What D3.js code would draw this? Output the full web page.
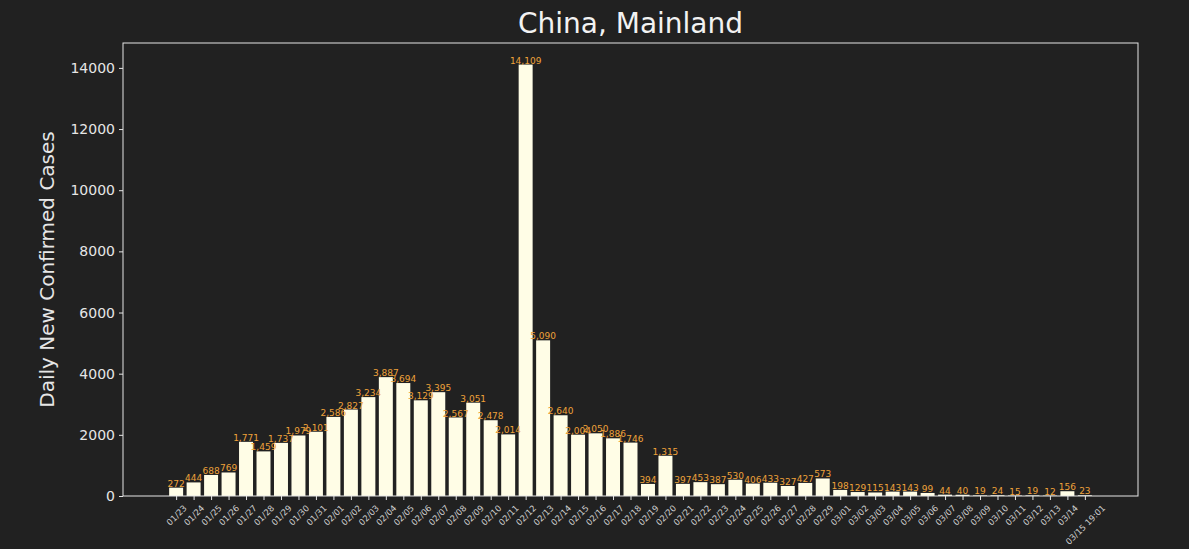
<!DOCTYPE html>
<html><head><meta charset="utf-8">
<script src="https://cdn.jsdelivr.net/npm/d3@7"></script>
<style>
html,body{margin:0;padding:0;background:#212121;}
svg{display:block;font-family:"DejaVu Sans",sans-serif;}
</style></head>
<body><svg id="c" width="1189" height="549"></svg>
<script>
const dates = ["01/23","01/24","01/25","01/26","01/27","01/28","01/29","01/30","01/31",
"02/01","02/02","02/03","02/04","02/05","02/06","02/07","02/08","02/09","02/10","02/11","02/12","02/13","02/14","02/15","02/16","02/17","02/18","02/19","02/20","02/21","02/22","02/23","02/24","02/25","02/26","02/27","02/28","02/29",
"03/01","03/02","03/03","03/04","03/05","03/06","03/07","03/08","03/09","03/10","03/11","03/12","03/13","03/14","03/15 19:01"];
const cases = [272,444,688,769,1771,1459,1737,1979,2101,
2586,2827,3234,3887,3694,3129,3395,2567,3051,2478,2014,14109,5090,2640,2004,2050,1886,1746,394,1315,397,453,387,530,406,433,327,427,573,
198,129,115,143,143,99,44,40,19,24,15,19,12,156,23];
const yTicks = [0,2000,4000,6000,8000,10000,12000,14000];
const title = "China, Mainland";
const yLabel = "Daily New Confirmed Cases";

const svg = d3.select("#c");
const L=123,R=1138,T=43,B=496;
const n = dates.length;
const x = d3.scaleLinear().domain([-0.4-0.05*(n-0.2), (n-1)+0.4+0.05*(n-0.2)]).range([L,R]);
const ymax = d3.max(cases)*1.05;
const y = d3.scaleLinear().domain([0,ymax]).range([B,T]);
const bw = x(0.8)-x(0);

svg.append("rect").attr("width",1189).attr("height",549).attr("fill","#212121");

// bars
svg.append("g").selectAll("rect").data(cases).join("rect")
  .attr("x",(d,i)=>x(i)-bw/2).attr("width",bw)
  .attr("y",d=>y(d)).attr("height",d=>B-y(d))
  .attr("fill","#fffde6");

// bar labels
const fmt = d3.format(",");
svg.append("g").selectAll("text").data(cases).join("text")
  .attr("x",(d,i)=>x(i)).attr("y",d=>y(d)-1)
  .attr("text-anchor","middle").attr("font-size",9)
  .attr("fill","#eea23a").text(d=>fmt(d));

// frame
svg.append("rect").attr("x",L).attr("y",T).attr("width",R-L).attr("height",B-T)
  .attr("fill","none").attr("stroke","#e6e6e6").attr("stroke-width",1);

// y axis
const yg = svg.append("g").attr("transform",`translate(${L},0)`)
  .call(d3.axisLeft(y).tickValues(yTicks).tickFormat(d3.format("d")).tickSize(4).tickPadding(4));
yg.select(".domain").remove();
yg.selectAll("line").attr("stroke","#e6e6e6");
yg.selectAll("text").attr("fill","#e6e6e6").attr("font-size",14).attr("font-family","DejaVu Sans");

// x axis
const xg = svg.append("g").attr("transform",`translate(0,${B})`);
xg.call(d3.axisBottom(x).tickValues(d3.range(n)).tickFormat(i=>dates[i]).tickSize(4).tickPadding(0));
xg.select(".domain").remove();
xg.selectAll("line").attr("stroke","#e6e6e6");
const fs = 8.5;
xg.selectAll("text").attr("fill","#d0d0d0").attr("font-size",fs).attr("font-family","DejaVu Sans")
  .attr("dy",null).attr("y",0).attr("text-anchor","middle").attr("dominant-baseline","central")
  .each(function(){
    const t=d3.select(this);
    const len=this.getComputedTextLength();
    const h=(len+fs)*Math.SQRT1_2;
    const cy=4+3.5+h/2;
    t.attr("transform",`translate(0,${cy}) rotate(-45)`);
  });

// title
svg.append("text").attr("x",(L+R)/2).attr("y",33).attr("text-anchor","middle")
  .attr("font-size",28).attr("fill","#f2f2f2").text(title);
// y label
svg.append("text").attr("transform",`translate(54,${(T+B)/2}) rotate(-90)`)
  .attr("text-anchor","middle").attr("font-size",20).attr("fill","#e6e6e6").text(yLabel);
</script></body></html>
